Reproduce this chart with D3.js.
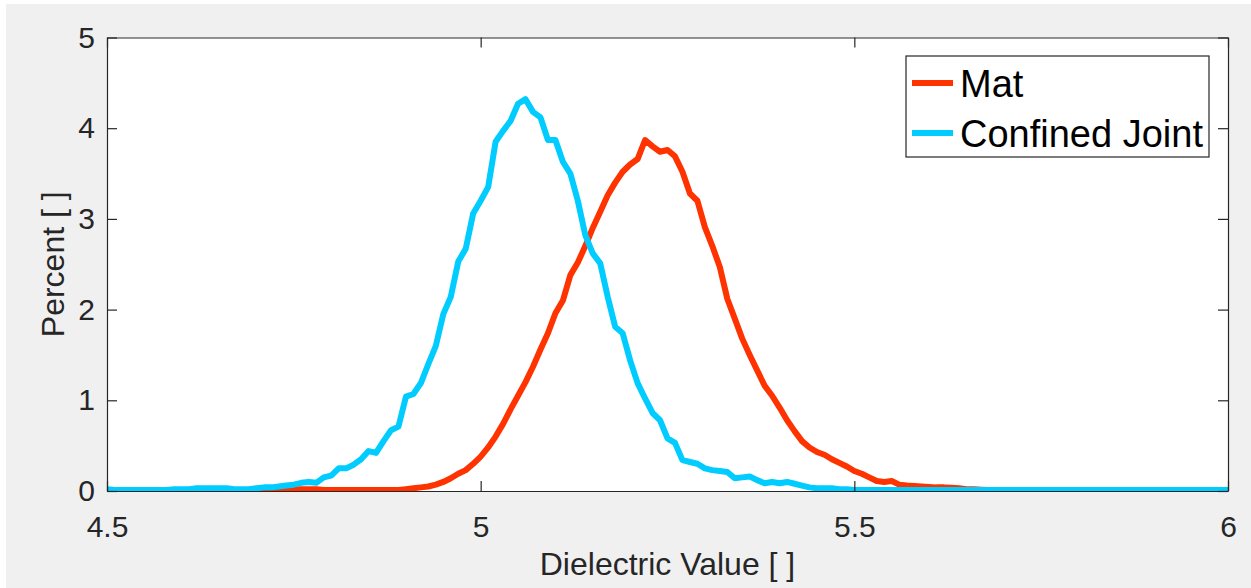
<!DOCTYPE html>
<html>
<head>
  <title>Dielectric Value Distribution</title>
  <script src="https://d3js.org/d3.v7.min.js"></script>
  <style>
    body { margin: 0; background: #fff; }
    svg { display: block; font-family: "Liberation Sans", Arial, Helvetica, sans-serif; }
  </style>
</head>
<body>
  <div id="chart"></div>
  <script>
    // bin positions of the histogram (0.01 wide bins from 4.5 to 6.0)
    const dielectric = d3.range(0, 151).map(i => +(4.5 + i * 0.01).toFixed(2));

    const matPercent = [
      0.00, 0.00, 0.00, 0.00, 0.00, 0.00, 0.00, 0.00, 0.00, 0.00,   // 4.50-4.59
      0.00, 0.00, 0.00, 0.00, 0.00, 0.00, 0.01, 0.01, 0.01, 0.01,   // 4.60-4.69
      0.01, 0.01, 0.01, 0.02, 0.02, 0.02, 0.02, 0.02, 0.02, 0.01,   // 4.70-4.79
      0.01, 0.01, 0.01, 0.01, 0.01, 0.01, 0.01, 0.01, 0.01, 0.01,   // 4.80-4.89
      0.02, 0.03, 0.04, 0.05, 0.07, 0.10, 0.14, 0.19, 0.23, 0.30,   // 4.90-4.99
      0.38, 0.48, 0.60, 0.74, 0.90, 1.05, 1.20, 1.37, 1.56, 1.74,   // 5.00-5.09
      1.96, 2.10, 2.38, 2.52, 2.70, 2.90, 3.08, 3.26, 3.40, 3.52,   // 5.10-5.19
      3.60, 3.66, 3.87, 3.80, 3.74, 3.76, 3.69, 3.52, 3.28, 3.20,   // 5.20-5.29
      2.91, 2.70, 2.47, 2.12, 1.90, 1.68, 1.50, 1.33, 1.16, 1.05,   // 5.30-5.39
      0.92, 0.78, 0.66, 0.55, 0.48, 0.43, 0.40, 0.35, 0.31, 0.27,   // 5.40-5.49
      0.22, 0.19, 0.15, 0.11, 0.10, 0.11, 0.07, 0.06, 0.055, 0.05,  // 5.50-5.59
      0.045, 0.04, 0.04, 0.035, 0.03, 0.02, 0.02, 0.015, 0.01, 0.01, // 5.60-5.69
      0.01, 0.01, 0.01, 0.01, 0.01, 0.01, 0.01, 0.01, 0.00, 0.00,   // 5.70-5.79
      0.00, 0.00, 0.00, 0.00, 0.00, 0.00, 0.00, 0.00, 0.00, 0.00,   // 5.80-5.89
      0.00, 0.00, 0.00, 0.00, 0.00, 0.00, 0.00, 0.00, 0.00, 0.00,   // 5.90-5.99
      0.00                                                          // 6.00
    ];

    const jointPercent = [
      0.02, 0.01, 0.01, 0.01, 0.01, 0.01, 0.01, 0.01, 0.01, 0.02,   // 4.50-4.59
      0.02, 0.02, 0.03, 0.03, 0.03, 0.03, 0.03, 0.02, 0.02, 0.02,   // 4.60-4.69
      0.03, 0.04, 0.04, 0.05, 0.06, 0.07, 0.09, 0.10, 0.09, 0.15,   // 4.70-4.79
      0.17, 0.25, 0.25, 0.29, 0.35, 0.44, 0.42, 0.55, 0.67, 0.71,   // 4.80-4.89
      1.04, 1.07, 1.19, 1.40, 1.60, 1.95, 2.14, 2.53, 2.67, 3.06,   // 4.90-4.99
      3.20, 3.35, 3.85, 3.97, 4.08, 4.27, 4.32, 4.18, 4.12, 3.87,   // 5.00-5.09
      3.87, 3.63, 3.50, 3.20, 2.82, 2.62, 2.51, 2.14, 1.81, 1.74,   // 5.10-5.19
      1.44, 1.19, 1.02, 0.86, 0.78, 0.58, 0.53, 0.34, 0.32, 0.30,   // 5.20-5.29
      0.25, 0.23, 0.22, 0.21, 0.14, 0.15, 0.16, 0.12, 0.085, 0.10,  // 5.30-5.39
      0.085, 0.10, 0.08, 0.06, 0.04, 0.03, 0.03, 0.03, 0.02, 0.02,  // 5.40-5.49
      0.01, 0.01, 0.01, 0.01, 0.01, 0.01, 0.01, 0.01, 0.01, 0.01,   // 5.50-5.59
      0.01, 0.01, 0.01, 0.01, 0.01, 0.01, 0.01, 0.01, 0.01, 0.01,   // 5.60-5.69
      0.01, 0.01, 0.01, 0.01, 0.01, 0.01, 0.01, 0.01, 0.01, 0.01,   // 5.70-5.79
      0.01, 0.01, 0.01, 0.01, 0.01, 0.01, 0.01, 0.01, 0.01, 0.01,   // 5.80-5.89
      0.01, 0.01, 0.01, 0.01, 0.01, 0.01, 0.01, 0.01, 0.01, 0.01,   // 5.90-5.99
      0.01                                                          // 6.00
    ];

    const seriesNames = ["Mat", "Confined Joint"];
    const seriesColors = ["#ff3300", "#00ccff"];
    const xTicks = [4.5, 5, 5.5, 6];
    const yTicks = [0, 1, 2, 3, 4, 5];

    const W = 1251, H = 588;
    const margin = { top: 37.5, right: 23, bottom: 97, left: 107 };
    const width = W - margin.left - margin.right;
    const height = H - margin.top - margin.bottom;
    const axisColor = "#262626";

    const x = d3.scaleLinear().domain([4.5, 6]).range([0, width]);
    const y = d3.scaleLinear().domain([0, 5]).range([height, 0]);

    const svg = d3.select("#chart").append("svg")
      .attr("width", W)
      .attr("height", H);

    // figure background
    svg.append("rect")
      .attr("x", 6).attr("y", 4)
      .attr("width", W - 6).attr("height", H - 4)
      .attr("fill", "#f0f0f0");

    const g = svg.append("g")
      .attr("transform", "translate(" + margin.left + "," + margin.top + ")");

    g.append("rect")
      .attr("width", width).attr("height", height)
      .attr("fill", "#fff");

    // lines
    const series = [matPercent, jointPercent];
    const line = d3.line()
      .x((d, i) => x(dielectric[i]))
      .y(d => y(d));

    g.append("clipPath").attr("id", "plotclip")
      .append("rect").attr("x", -3).attr("y", -3)
      .attr("width", width + 6).attr("height", height + 3);

    series.forEach((vals, k) => {
      g.append("path")
        .datum(vals)
        .attr("clip-path", "url(#plotclip)")
        .attr("fill", "none")
        .attr("stroke", seriesColors[k])
        .attr("stroke-width", 6)
        .attr("stroke-linejoin", "round")
        .attr("stroke-linecap", "butt")
        .attr("d", line);
    });

    // axes (ticks inside, mirrored on top/right)
    const tickLen = 10;
    const tickFont = "30px";

    const xAxis = g.append("g")
      .attr("transform", "translate(0," + height + ")")
      .call(d3.axisBottom(x).tickValues(xTicks).tickSizeInner(-tickLen).tickSizeOuter(0).tickPadding(25).tickFormat(d3.format("")));
    const yAxis = g.append("g")
      .call(d3.axisLeft(y).tickValues(yTicks).tickSizeInner(-tickLen).tickSizeOuter(0).tickPadding(12).tickFormat(d3.format("")));
    const xTop = g.append("g")
      .call(d3.axisTop(x).tickValues(xTicks).tickSizeInner(-tickLen).tickSizeOuter(0).tickFormat(""));
    const yRight = g.append("g")
      .attr("transform", "translate(" + width + ",0)")
      .call(d3.axisRight(y).tickValues(yTicks).tickSizeInner(-tickLen).tickSizeOuter(0).tickFormat(""));

    [xAxis, yAxis, xTop, yRight].forEach(a => {
      a.select(".domain").attr("stroke", axisColor).attr("stroke-width", 1.2);
      a.selectAll(".tick line").attr("stroke", axisColor).attr("stroke-width", 1.2);
      a.selectAll(".tick text")
        .attr("fill", axisColor)
        .style("font-size", tickFont)
        .style("font-family", "'Liberation Sans', Arial, sans-serif");
    });

    // axis titles
    g.append("text")
      .attr("x", width / 2)
      .attr("y", height + 84)
      .attr("text-anchor", "middle")
      .attr("fill", axisColor)
      .style("font-size", "32px")
      .text("Dielectric Value [ ]");

    g.append("text")
      .attr("transform", "rotate(-90)")
      .attr("x", -height / 2)
      .attr("y", -margin.left + 64)
      .attr("text-anchor", "middle")
      .attr("fill", axisColor)
      .style("font-size", "32px")
      .text("Percent [ ]");

    // legend
    const legend = svg.append("g").attr("transform", "translate(906,56)");
    legend.append("rect")
      .attr("width", 303).attr("height", 101)
      .attr("fill", "#fff")
      .attr("stroke", axisColor)
      .attr("stroke-width", 1.2);

    seriesNames.forEach((name, k) => {
      const row = legend.append("g").attr("transform", "translate(0," + (27 + k * 50) + ")");
      row.append("line")
        .attr("x1", 6).attr("x2", 47)
        .attr("stroke", seriesColors[k])
        .attr("stroke-width", 6);
      row.append("text")
        .attr("x", 54)
        .attr("y", 13.5)
        .attr("fill", "#000")
        .style("font-size", "38px")
        .text(name);
    });
  </script>
</body>
</html>
